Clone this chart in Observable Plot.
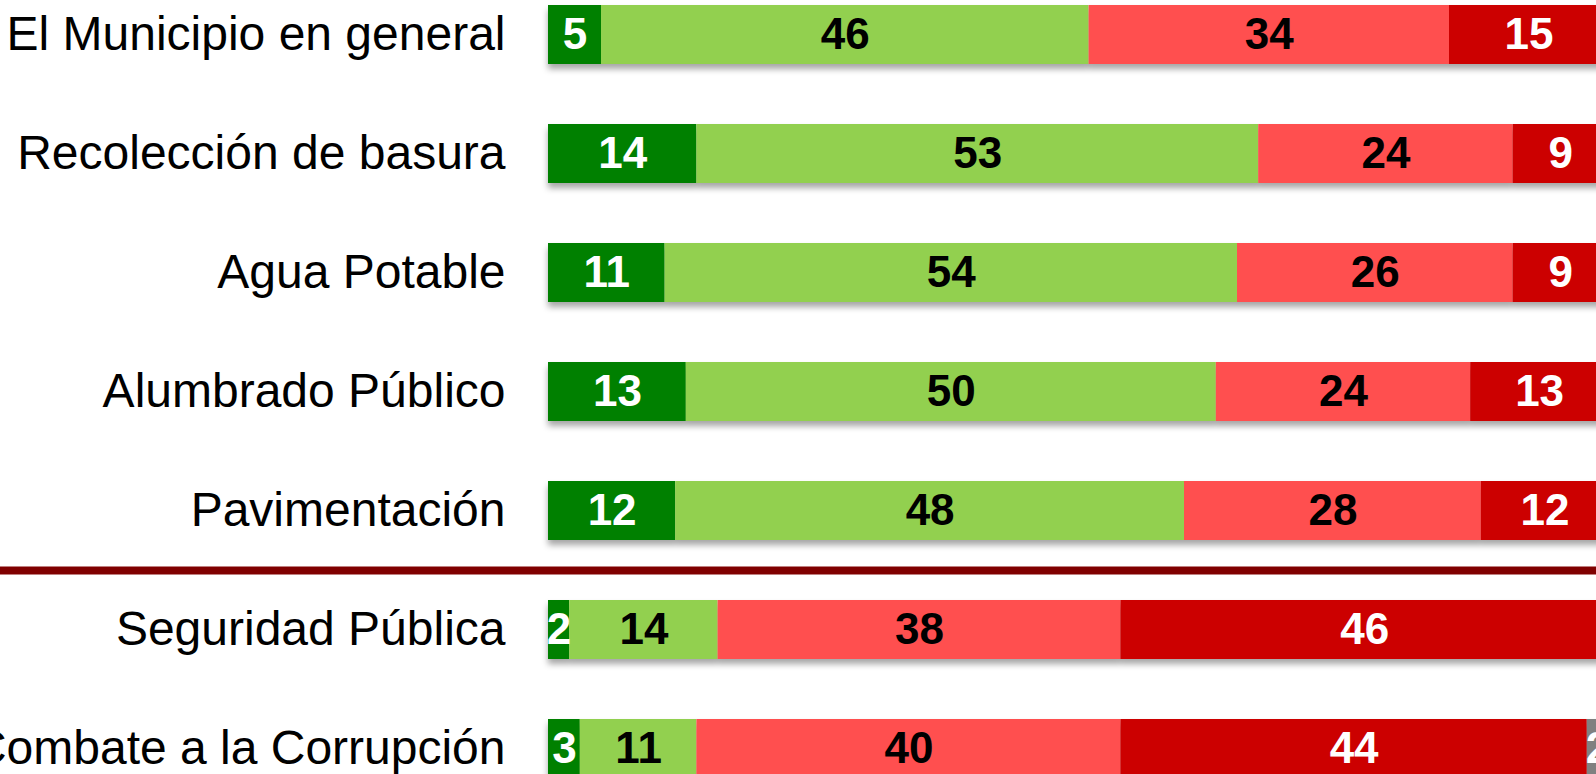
<!DOCTYPE html>
<html><head><meta charset="utf-8">
<script src="https://cdn.jsdelivr.net/npm/d3@7"></script>
<script src="https://cdn.jsdelivr.net/npm/@observablehq/plot@0.6"></script>
<style>html,body{margin:0;padding:0;background:#fff;overflow:hidden}</style>
</head><body><div id="chart"></div>
<script>
const categories = ["El Municipio en general","Recolección de basura","Agua Potable","Alumbrado Público","Pavimentación","Seguridad Pública","Combate a la Corrupción"];
const responses = ["Muy bien","Bien","Mal","Muy mal","NS/NC"];
const colors = ["#008000","#92D050","#FF5050","#CC0000","#808080"];
const whiteLabel = ["Muy bien","Muy mal","NS/NC"];
const muyBien = [5,14,11,13,12,2,3];
const bien    = [46,53,54,50,48,14,11];
const mal     = [34,24,26,24,28,38,40];
const muyMal  = [15,9,9,13,12,46,44];
const nsnc    = [0,0,0,0,0,0,2];
const separatorAfter = "Pavimentación";

const series = [muyBien, bien, mal, muyMal, nsnc];
const data = [];
categories.forEach((cat, i) => {
  responses.forEach((resp, j) => {
    const v = series[j][i];
    if (v > 0) data.push({cat, resp, value: v});
  });
});

const chart = Plot.plot({
  width: 1596, height: 774,
  marginTop: 0, marginBottom: 0, marginLeft: 0, marginRight: 0,
  style: {fontFamily: "Arial, 'Liberation Sans', sans-serif", overflow: "hidden", background: "#fff"},
  x: {domain: [0, 100], range: [548, 1608], axis: null},
  y: {domain: categories, range: [-25.9, 808.5], paddingInner: 0.5025, paddingOuter: 0.25125, axis: null},
  color: {domain: responses, range: colors},
  marks: [
    Plot.barX(data, Plot.stackX({x: "value", y: "cat", fill: "resp", order: responses})),
    Plot.text(data, Plot.stackX({x: "value", y: "cat", z: "resp", order: responses,
      text: d => whiteLabel.includes(d.resp) ? String(d.value) : null,
      fill: "#ffffff", fontSize: 44, fontWeight: "bold"})),
    Plot.text(data, Plot.stackX({x: "value", y: "cat", z: "resp", order: responses,
      text: d => whiteLabel.includes(d.resp) ? null : String(d.value),
      fill: "#000000", fontSize: 44, fontWeight: "bold"})),
    Plot.text(categories, {x: 0, y: d => d, text: d => d, textAnchor: "end", dx: -43, fontSize: 48, fill: "#000"}),
    Plot.ruleY([separatorAfter], {y: d => d, dy: 59.6, stroke: "#800000", strokeWidth: 8})
  ]
});

const svg = d3.select(chart);
const defs = svg.insert("defs", ":first-child");
const f = defs.append("filter").attr("id", "barShadow").attr("x", "-5%").attr("y", "-20%").attr("width", "110%").attr("height", "160%");
f.append("feDropShadow").attr("dx", 0).attr("dy", 5).attr("stdDeviation", 3).attr("flood-color", "#000").attr("flood-opacity", 0.35);
svg.selectAll("g[aria-label='bar']").attr("filter", "url(#barShadow)");

document.getElementById("chart").appendChild(chart);
</script>
</body></html>
